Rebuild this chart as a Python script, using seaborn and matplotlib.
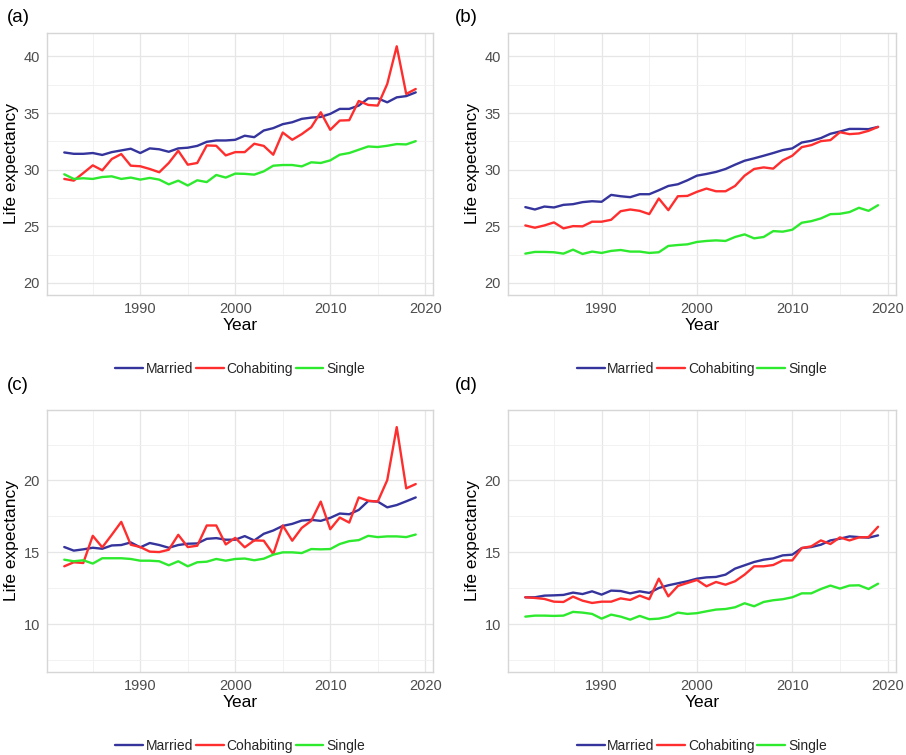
import matplotlib
matplotlib.use("Agg")
import matplotlib.pyplot as plt
import seaborn as sns
import pandas as pd
from matplotlib.ticker import MultipleLocator

years = [1982, 1983, 1984, 1985, 1986, 1987, 1988, 1989, 1990, 1991,
         1992, 1993, 1994, 1995, 1996, 1997, 1998, 1999, 2000, 2001,
         2002, 2003, 2004, 2005, 2006, 2007, 2008, 2009, 2010, 2011,
         2012, 2013, 2014, 2015, 2016, 2017, 2018, 2019]

groups = ["Married", "Cohabiting", "Single"]
panel_labels = ["(a)", "(b)", "(c)", "(d)"]

a_married = [31.52, 31.4, 31.4, 31.47, 31.3, 31.55, 31.7, 31.85, 31.47, 31.88,
             31.8, 31.58, 31.88, 31.94, 32.1, 32.46, 32.58, 32.58, 32.64, 33.0,
             32.87, 33.46, 33.67, 34.02, 34.19, 34.49, 34.6, 34.66, 34.93, 35.37,
             35.37, 35.66, 36.3, 36.3, 35.95, 36.39, 36.5, 36.83]
a_cohab = [29.18, 29.03, 29.7, 30.38, 29.94, 30.94, 31.38, 30.35, 30.3, 30.06,
           29.77, 30.59, 31.67, 30.44, 30.59, 32.14, 32.11, 31.26, 31.55, 31.55,
           32.29, 32.1, 31.32, 33.28, 32.64, 33.14, 33.75, 35.07, 33.52, 34.34,
           34.37, 36.07, 35.72, 35.66, 37.57, 40.9, 36.69, 37.13]
a_single = [29.59, 29.18, 29.24, 29.18, 29.35, 29.41, 29.18, 29.3, 29.12, 29.27,
            29.12, 28.7, 29.03, 28.6, 29.06, 28.9, 29.53, 29.3, 29.65, 29.63,
            29.56, 29.85, 30.35, 30.41, 30.41, 30.29, 30.65, 30.59, 30.82, 31.32,
            31.47, 31.76, 32.05, 32.0, 32.11, 32.26, 32.23, 32.52]

b_married = [26.69, 26.48, 26.74, 26.66, 26.89, 26.95, 27.13, 27.21, 27.16, 27.77,
             27.65, 27.57, 27.83, 27.83, 28.18, 28.56, 28.71, 29.06, 29.47, 29.62,
             29.8, 30.06, 30.44, 30.79, 31.0, 31.23, 31.47, 31.73, 31.88, 32.4,
             32.55, 32.79, 33.17, 33.37, 33.6, 33.6, 33.58, 33.78]
b_cohab = [25.07, 24.87, 25.07, 25.34, 24.81, 25.01, 24.99, 25.4, 25.4, 25.57,
           26.33, 26.48, 26.36, 26.07, 27.45, 26.42, 27.65, 27.68, 28.04, 28.33,
           28.09, 28.09, 28.56, 29.47, 30.06, 30.2, 30.09, 30.82, 31.23, 31.99,
           32.17, 32.52, 32.61, 33.31, 33.14, 33.2, 33.43, 33.78]
b_single = [22.58, 22.73, 22.73, 22.7, 22.58, 22.93, 22.55, 22.76, 22.64, 22.82,
            22.9, 22.76, 22.76, 22.64, 22.7, 23.26, 23.34, 23.4, 23.61, 23.7,
            23.75, 23.7, 24.05, 24.28, 23.93, 24.05, 24.57, 24.52, 24.69, 25.31,
            25.45, 25.69, 26.07, 26.1, 26.25, 26.63, 26.36, 26.86]

c_married = [15.37, 15.12, 15.21, 15.32, 15.25, 15.48, 15.51, 15.69, 15.35, 15.65,
             15.51, 15.32, 15.51, 15.6, 15.62, 15.94, 15.99, 15.88, 15.88, 16.13,
             15.83, 16.29, 16.52, 16.84, 16.98, 17.21, 17.26, 17.19, 17.4, 17.7,
             17.65, 17.95, 18.57, 18.53, 18.13, 18.29, 18.55, 18.82]
c_cohab = [14.03, 14.31, 14.26, 16.15, 15.35, 16.22, 17.12, 15.53, 15.37, 15.05,
           15.02, 15.18, 16.22, 15.37, 15.46, 16.87, 16.87, 15.55, 16.01, 15.35,
           15.83, 15.81, 14.88, 16.87, 15.81, 16.7, 17.19, 18.53, 16.61, 17.42,
           17.07, 18.82, 18.59, 18.53, 20.02, 23.71, 19.45, 19.75]
c_single = [14.49, 14.38, 14.45, 14.22, 14.59, 14.59, 14.59, 14.54, 14.42, 14.42,
            14.38, 14.1, 14.38, 14.03, 14.31, 14.35, 14.54, 14.42, 14.54, 14.57,
            14.45, 14.56, 14.84, 15.0, 15.0, 14.95, 15.23, 15.21, 15.23, 15.58,
            15.78, 15.85, 16.15, 16.06, 16.11, 16.11, 16.06, 16.24]

d_married = [11.875, 11.875, 11.99, 12.01, 12.04, 12.2, 12.1, 12.29, 12.06, 12.34,
             12.31, 12.15, 12.29, 12.18, 12.52, 12.71, 12.85, 12.99, 13.17, 13.26,
             13.29, 13.45, 13.87, 14.1, 14.33, 14.49, 14.58, 14.79, 14.84, 15.3,
             15.37, 15.53, 15.83, 15.95, 16.11, 16.06, 16.02, 16.18]
d_cohab = [11.875, 11.83, 11.76, 11.57, 11.55, 11.92, 11.64, 11.48, 11.57, 11.57,
           11.8, 11.69, 11.99, 11.74, 13.17, 11.94, 12.66, 12.87, 13.08, 12.64,
           12.94, 12.75, 12.99, 13.45, 14.03, 14.03, 14.12, 14.44, 14.44, 15.3,
           15.42, 15.83, 15.58, 16.04, 15.83, 16.04, 16.06, 16.78]
d_single = [10.53, 10.6, 10.6, 10.58, 10.6, 10.86, 10.81, 10.72, 10.39, 10.67,
            10.53, 10.32, 10.58, 10.35, 10.39, 10.53, 10.81, 10.72, 10.77, 10.9,
            11.02, 11.06, 11.18, 11.46, 11.25, 11.55, 11.67, 11.74, 11.875, 12.15,
            12.15, 12.45, 12.69, 12.48, 12.69, 12.71, 12.45, 12.82]

panels = [
    (a_married, a_cohab, a_single),
    (b_married, b_cohab, b_single),
    (c_married, c_cohab, c_single),
    (d_married, d_cohab, d_single),
]

palette = {"Married": "#34349C", "Cohabiting": "#FF2E2E", "Single": "#2EEA2E"}

sns.set_theme(style="white")
plt.rcParams["font.family"] = ["Liberation Sans", "DejaVu Sans"]

W, H = 906, 755
fig = plt.figure(figsize=(W / 100, H / 100), dpi=100)

# axes boxes in pixels: left, top, right, bottom
boxes = [
    (46.7, 33.3, 433.3, 294.7),
    (507.7, 33.3, 895.7, 294.7),
    (46.7, 410.0, 433.3, 671.7),
    (507.7, 410.0, 895.7, 671.7),
]
ylims = [(18.95, 42.05), (18.95, 42.05), (6.7, 24.9), (6.7, 24.9)]
label_pos = [(7, 17), (455, 17), (7, 386), (455, 386)]

for i, (vals, box, yl) in enumerate(zip(panels, boxes, ylims)):
    l, t, r, b = box
    ax = fig.add_axes([l / W, 1 - b / H, (r - l) / W, (b - t) / H])
    rows = []
    for g, v in zip(groups, vals):
        for y, val in zip(years, v):
            rows.append({"Year": y, "Life expectancy": val, "Group": g})
    df = pd.DataFrame(rows)
    sns.lineplot(data=df, x="Year", y="Life expectancy", hue="Group",
                 hue_order=groups, palette=palette, linewidth=1.7, ax=ax)
    ax.set_xlim(1980.15, 2020.85)
    ax.set_ylim(*yl)
    ax.xaxis.set_major_locator(MultipleLocator(10))
    ax.xaxis.set_minor_locator(MultipleLocator(5))
    ax.yaxis.set_major_locator(MultipleLocator(5))
    ax.yaxis.set_minor_locator(MultipleLocator(2.5))
    ax.grid(which="major", color="#E6E6E6", linewidth=0.9)
    ax.grid(which="minor", color="#F0F0F0", linewidth=0.6)
    ax.set_axisbelow(True)
    for s in ax.spines.values():
        s.set_color("#D6D6D6")
        s.set_linewidth(1.0)
    ax.tick_params(which="both", length=0, labelsize=10.5, labelcolor="#4D4D4D")
    ax.tick_params(axis="x", pad=5)
    ax.tick_params(axis="y", pad=5)
    ax.set_xlabel("Year", fontsize=12.5, labelpad=2, color="black")
    ax.set_ylabel("Life expectancy", fontsize=12.5, labelpad=3, color="black")
    ax.legend(loc="center", bbox_to_anchor=(0.5, -0.285), ncol=3, frameon=False,
              fontsize=10, handlelength=2.0, handletextpad=0.2, columnspacing=0.2,
              borderaxespad=0)
    lx, ly = label_pos[i]
    fig.text(lx / W, 1 - ly / H, panel_labels[i], fontsize=13.5, ha="left", va="center",
             color="black")

fig.savefig("out.png", dpi=100)
